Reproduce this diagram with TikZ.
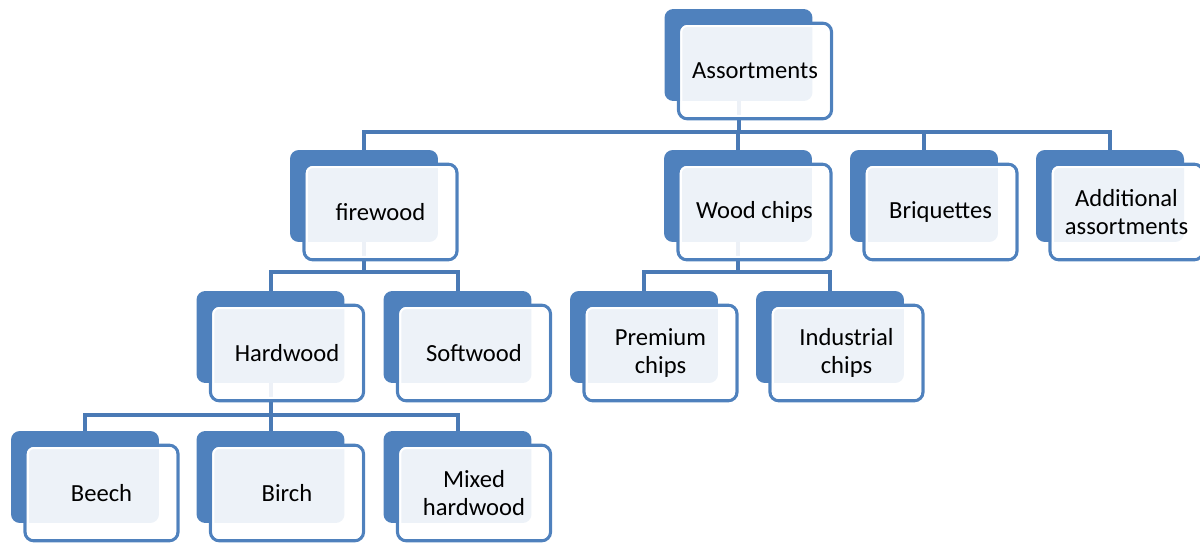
\documentclass[tikz,border=0pt]{standalone}
\usepackage{fontspec}
\setmainfont{Carlito}
\usetikzlibrary{calc,positioning}
\definecolor{boxblue}{HTML}{4F81BD}
\definecolor{linkblue}{HTML}{4A7AB5}
\pgfdeclarelayer{bg}
\pgfsetlayers{bg,main}

% back box, front box and white rim of one assortment
\newcommand{\woodbox}[3]{%
  \node[back] (#1) at (#2) {};
  \node[front] (#1-f) at ($(#1)+(16.5,16)$) {#3};
  \node[rim] at (#1-f) {};
}

\begin{document}
\begin{tikzpicture}[x=0.02cm, y=-0.02cm,
    back/.style = {fill=boxblue, rounded corners=5pt, minimum width=2.96cm,
      minimum height=1.84cm, inner sep=0pt},
    front/.style = {draw=boxblue, line width=0.065cm, fill=white, fill opacity=0.9,
      text opacity=1, rounded corners=5pt, minimum width=3.06cm, minimum height=1.91cm,
      inner sep=0pt, align=center, font=\fontsize{14}{15.5}\selectfont},
    rim/.style = {draw=white, line width=0.04cm, rounded corners=3.5pt,
      minimum width=2.95cm, minimum height=1.8cm, inner sep=0pt},
    link/.style = {draw=linkblue, line width=0.08cm}]
  \useasboundingbox (0,0) rectangle (1200,543);

  \woodbox{as}{738.5,55}{Assortments}
  \woodbox{fw}{364,196}{firewood}
  \woodbox{wc}{738,196}{Wood chips}
  \woodbox{br}{924,196}{Briquettes}
  \woodbox{ad}{1110,196}{Additional\\assortments}
  \woodbox{hw}{270.5,337}{Hardwood}
  \woodbox{sw}{457.5,337}{Softwood}
  \woodbox{pc}{644,337}{Premium\\chips}
  \woodbox{ic}{830,337}{Industrial\\chips}
  \woodbox{be}{85,477}{Beech}
  \woodbox{bi}{270.5,477}{Birch}
  \woodbox{mh}{457.5,477}{Mixed\\hardwood}

  % connectors behind the boxes
  \begin{pgfonlayer}{bg}
    \foreach \c in {fw,wc,br,ad} \draw[link] (as.south) -- ++(0,31) -| (\c.north);
    \foreach \c in {hw,sw} \draw[link] (fw.south) -- ++(0,30) -| (\c.north);
    \foreach \c in {pc,ic} \draw[link] (wc.south) -- ++(0,30) -| (\c.north);
    \foreach \c in {be,bi,mh} \draw[link] (hw.south) -- ++(0,32) -| (\c.north);
  \end{pgfonlayer}
\end{tikzpicture}
\end{document}
